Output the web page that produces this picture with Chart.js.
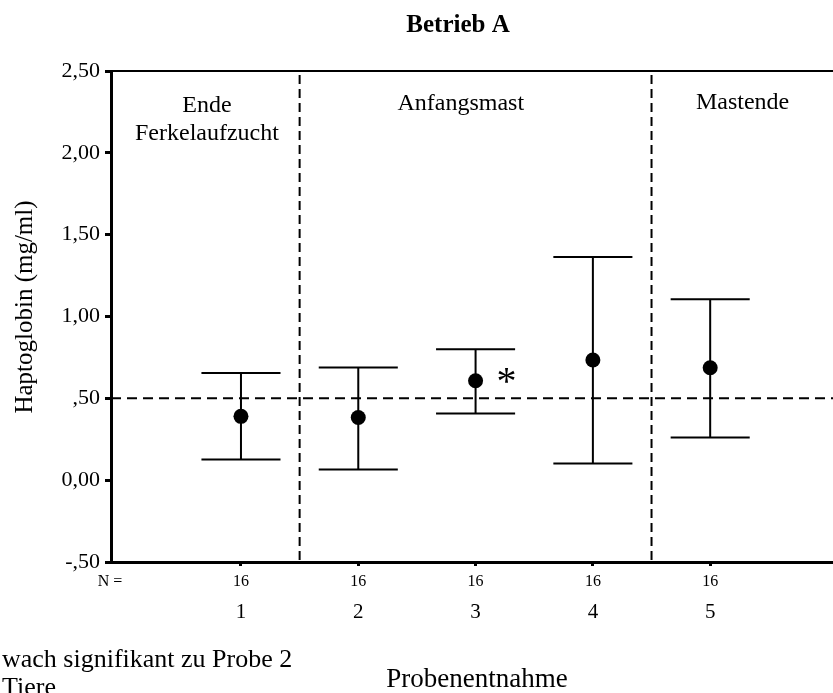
<!DOCTYPE html>
<html>
<head>
<meta charset="utf-8">
<script src="https://cdn.jsdelivr.net/npm/chart.js@4.4.1/dist/chart.umd.min.js"></script>
<style>
  html, body { margin: 0; padding: 0; background: #fff; }
  #wrap { width: 833px; height: 693px; position: relative; }
</style>
</head>
<body>
<div id="wrap"><canvas id="c" width="833" height="693"></canvas></div>
<script>
// ---- data ----
const categories = [1, 2, 3, 4, 5];
const means   = [0.390, 0.383, 0.607, 0.734, 0.687];
const lowerCI = [0.127, 0.065, 0.408, 0.102, 0.261];
const upperCI = [0.655, 0.689, 0.800, 1.364, 1.105];
const nCounts = [16, 16, 16, 16, 16];
const significant = [false, false, true, false, false];
const yTickValues = [-0.5, 0, 0.5, 1.0, 1.5, 2.0, 2.5];
const yTickLabels = ["-,50", "0,00", ",50", "1,00", "1,50", "2,00", "2,50"];
const phaseBreaks = [1.5, 4.5];
const phaseLabels = [["Ende", "Ferkelaufzucht"], ["Anfangsmast"], ["Mastende"]];
const phaseLabelX = [0.71, 2.874, 5.276];
const referenceValue = 0.5;
const chartTitle = "Betrieb A";
const yTitle = "Haptoglobin (mg/ml)";
const xTitle = "Probenentnahme";
const footnoteLines = ["wach signifikant zu Probe 2", "Tiere"];

const SERIF = "'Liberation Serif', 'Times New Roman', serif";
const CAP = 0.337; // half cap width in x units
const LABEL_DY = [41, 39, 38]; // baseline offset of first phase-label line below the frame top

const overlay = {
  id: 'overlay',
  beforeDatasetsDraw(chart) {
    const {ctx, chartArea: a, scales: {x, y}} = chart;
    ctx.save();
    ctx.strokeStyle = '#000';
    ctx.lineWidth = 2;
    ctx.beginPath();
    ctx.moveTo(a.left, a.top);
    ctx.lineTo(a.right, a.top);
    ctx.stroke();
    ctx.setLineDash([10, 6]);
    const yr = y.getPixelForValue(referenceValue);
    ctx.beginPath();
    ctx.moveTo(a.left, yr);
    ctx.lineTo(a.right, yr);
    ctx.stroke();
    ctx.setLineDash([9, 5]);
    phaseBreaks.forEach(b => {
      const px = x.getPixelForValue(b);
      ctx.beginPath();
      ctx.moveTo(px, a.top + 4);
      ctx.lineTo(px, a.bottom);
      ctx.stroke();
    });
    ctx.setLineDash([]);
    ctx.lineWidth = 2;
    categories.forEach((c, i) => {
      const px = x.getPixelForValue(c);
      const pl = x.getPixelForValue(c - CAP);
      const pr = x.getPixelForValue(c + CAP);
      const yl = y.getPixelForValue(lowerCI[i]);
      const yu = y.getPixelForValue(upperCI[i]);
      ctx.beginPath();
      ctx.moveTo(px, yl); ctx.lineTo(px, yu);
      ctx.moveTo(pl, yl); ctx.lineTo(pr, yl);
      ctx.moveTo(pl, yu); ctx.lineTo(pr, yu);
      ctx.stroke();
    });
    ctx.restore();
  },
  afterDraw(chart) {
    const {ctx, chartArea: a, scales: {x, y}} = chart;
    ctx.save();
    ctx.fillStyle = '#000';
    ctx.font = "bold 25px " + SERIF;
    ctx.textAlign = 'center';
    ctx.textBaseline = 'alphabetic';
    ctx.fillText(chartTitle, 458, 32);
    ctx.font = "24px " + SERIF;
    phaseLabels.forEach((lines, i) => {
      const px = x.getPixelForValue(phaseLabelX[i]);
      lines.forEach((t, j) => {
        ctx.fillText(t, px, a.top + LABEL_DY[i] + j * 28);
      });
    });
    ctx.font = "40px " + SERIF;
    categories.forEach((c, i) => {
      if (significant[i]) {
        const px = x.getPixelForValue(c + 0.264);
        const py = y.getPixelForValue(means[i]);
        ctx.fillText("*", px, py + 13);
      }
    });
    ctx.font = "16px " + SERIF;
    ctx.textBaseline = 'middle';
    ctx.fillText("N =", 110, a.bottom + 20);
    categories.forEach((c, i) => {
      ctx.fillText(String(nCounts[i]), x.getPixelForValue(c), a.bottom + 20);
    });
    ctx.save();
    ctx.translate(25, 307);
    ctx.rotate(-Math.PI / 2);
    ctx.font = "25px " + SERIF;
    ctx.textBaseline = 'middle';
    ctx.fillText(yTitle, 0, 0);
    ctx.restore();
    ctx.font = "27px " + SERIF;
    ctx.textBaseline = 'alphabetic';
    ctx.fillText(xTitle, 477, 687);
    ctx.font = "26px " + SERIF;
    ctx.textAlign = 'left';
    ctx.fillText(footnoteLines[0], 2, 667);
    ctx.fillText(footnoteLines[1], 2, 695);
    ctx.restore();
  }
};

new Chart(document.getElementById('c'), {
  type: 'scatter',
  data: {
    datasets: [{
      data: categories.map((c, i) => ({x: c, y: means[i]})),
      pointRadius: 7.5,
      pointHoverRadius: 7.5,
      pointBackgroundColor: '#000',
      pointBorderColor: '#000',
      pointBorderWidth: 0
    }]
  },
  options: {
    responsive: false,
    animation: false,
    devicePixelRatio: 1,
    layout: { autoPadding: false, padding: { top: 71, left: 0, right: 0, bottom: 0 } },
    plugins: { legend: { display: false }, tooltip: { enabled: false }, title: { display: false } },
    scales: {
      x: {
        type: 'linear',
        min: -0.108,
        max: 6.047,
        afterFit(s) { s.height = 131; },
        afterBuildTicks(s) { s.ticks = categories.map(v => ({value: v})); },
        grid: { drawOnChartArea: false, drawTicks: true, tickLength: 4, color: '#000', lineWidth: 3 },
        border: { display: true, color: '#000', width: 3 },
        ticks: {
          color: '#000',
          font: { family: SERIF, size: 21 },
          padding: 34,
          maxRotation: 0,
          autoSkip: false,
          callback: v => String(v)
        }
      },
      y: {
        type: 'linear',
        min: -0.5,
        max: 2.5,
        afterFit(s) { s.width = 111; },
        afterBuildTicks(s) { s.ticks = yTickValues.map(v => ({value: v})); },
        grid: { drawOnChartArea: false, drawTicks: true, tickLength: 6, color: '#000', lineWidth: 3 },
        border: { display: true, color: '#000', width: 3 },
        ticks: {
          color: '#000',
          font: { family: SERIF, size: 22 },
          padding: 5,
          callback: (v) => {
            const k = yTickValues.findIndex(t => Math.abs(t - v) < 1e-9);
            return k >= 0 ? yTickLabels[k] : '';
          }
        }
      }
    }
  },
  plugins: [overlay]
});
</script>
</body>
</html>
